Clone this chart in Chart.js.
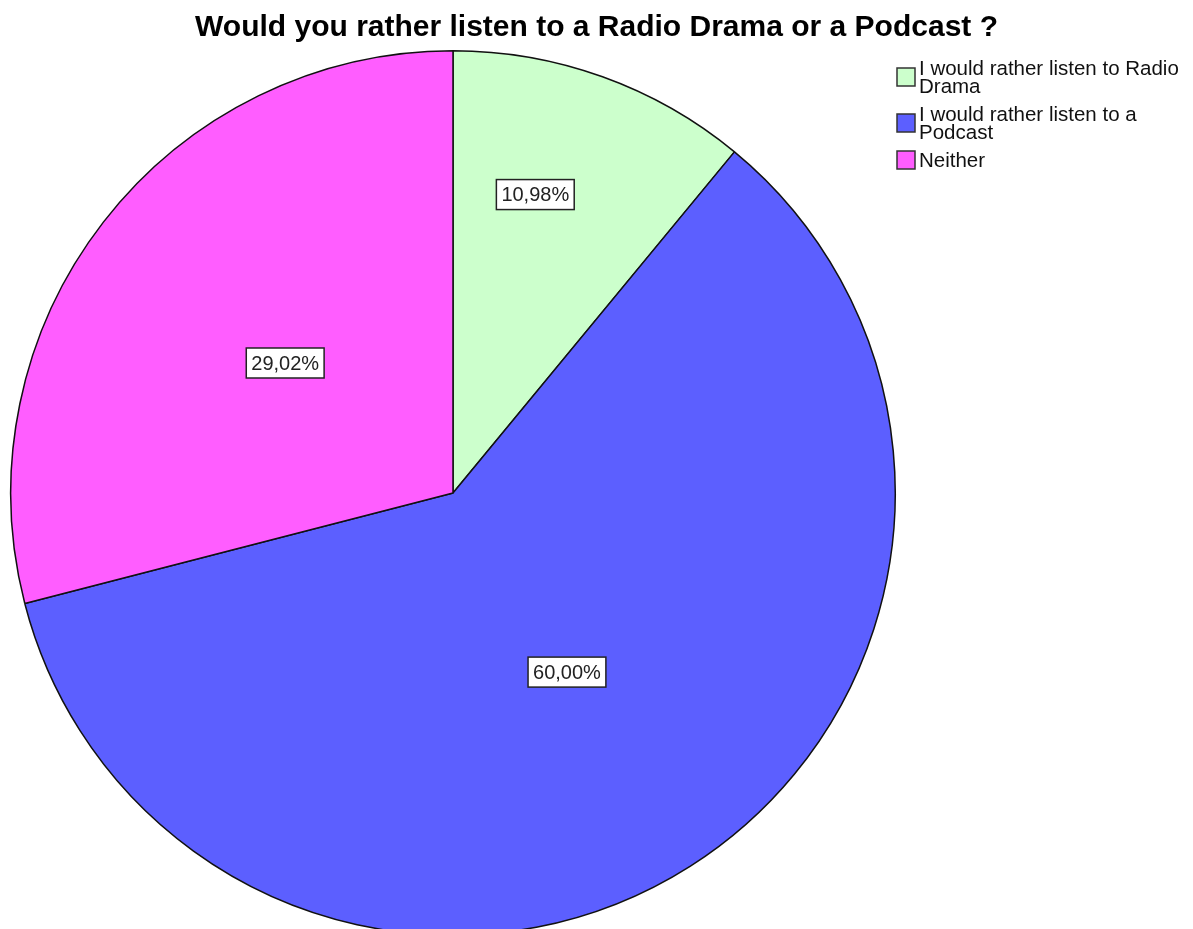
<!DOCTYPE html>
<html>
<head>
<meta charset="utf-8">
<title>Radio Drama or Podcast</title>
<script src="https://cdn.jsdelivr.net/npm/chart.js@4.4.1/dist/chart.umd.min.js"></script>
<style>
  html, body { margin: 0; padding: 0; background: #fff; overflow: hidden; }
  #wrap { width: 1193px; height: 929px; overflow: hidden; position: relative; }
</style>
</head>
<body>
<div id="wrap">
  <canvas id="pieChart" width="1193" height="940"></canvas>
</div>
<script>
// Datos del gráfico
const titleText = 'Would you rather listen to a Radio Drama or a Podcast ?';
const categories = [
  ['I would rather listen to Radio', 'Drama'],
  ['I would rather listen to a', 'Podcast'],
  ['Neither']
];
const percentages = [10.98, 60.00, 29.02];
const sliceColors = ['#ccffcc', '#5c5fff', '#ff5dff'];

const fontFamily = 'Arial, "Liberation Sans", sans-serif';

// formato con coma decimal, como en el original
function formatPct(v) {
  return v.toFixed(2).replace('.', ',') + '%';
}

// Título, etiquetas y leyenda dibujados a mano
const decorPlugin = {
  id: 'decor',
  afterDraw(chart) {
    const ctx = chart.ctx;
    ctx.save();

    // título
    ctx.fillStyle = '#000';
    ctx.font = 'bold 30px ' + fontFamily;
    ctx.textAlign = 'center';
    ctx.textBaseline = 'alphabetic';
    ctx.fillText(titleText, chart.width / 2, 36);

    // etiquetas de porcentaje
    const meta = chart.getDatasetMeta(0);
    ctx.font = '20px ' + fontFamily;
    meta.data.forEach((arc, i) => {
      const p = arc.getProps(['x', 'y', 'startAngle', 'endAngle', 'outerRadius'], true);
      const small = percentages[i] < 15;
      // las porciones pequeñas llevan la etiqueta más afuera y algo hacia el inicio
      const ang = p.startAngle + (p.endAngle - p.startAngle) * (small ? 0.39 : 0.5);
      const frac = small ? 0.7 : 0.48;
      const cx = p.x + Math.cos(ang) * p.outerRadius * frac;
      const cy = p.y + Math.sin(ang) * p.outerRadius * frac;
      const txt = formatPct(percentages[i]);
      const w = ctx.measureText(txt).width + 10;
      const h = 30;
      ctx.fillStyle = '#fff';
      ctx.fillRect(cx - w / 2, cy - h / 2, w, h);
      ctx.strokeStyle = '#222';
      ctx.lineWidth = 1.5;
      ctx.strokeRect(cx - w / 2, cy - h / 2, w, h);
      ctx.fillStyle = '#222';
      ctx.textAlign = 'center';
      ctx.textBaseline = 'middle';
      ctx.fillText(txt, cx, cy + 1);
    });

    // leyenda
    const lx = chart.chartArea.right + 1;
    const lineH = 18;
    let baseline = 75;
    ctx.font = '20.5px ' + fontFamily;
    ctx.textAlign = 'left';
    ctx.textBaseline = 'alphabetic';
    categories.forEach((lines, i) => {
      const top = baseline - 14;
      const bottom = baseline + (lines.length - 1) * lineH;
      const boxC = (top + bottom) / 2;
      ctx.fillStyle = sliceColors[i];
      ctx.fillRect(lx, boxC - 9, 18, 18);
      ctx.strokeStyle = '#333';
      ctx.lineWidth = 1.5;
      ctx.strokeRect(lx, boxC - 9, 18, 18);
      ctx.fillStyle = '#111';
      lines.forEach((ln, j) => {
        ctx.fillText(ln, lx + 22, baseline + j * lineH);
      });
      baseline += (lines.length - 1) * lineH + 28;
    });

    ctx.restore();
  }
};

const ctx = document.getElementById('pieChart').getContext('2d');
const chart = new Chart(ctx, {
  type: 'pie',
  data: {
    labels: categories.map(l => l.join(' ')),
    datasets: [{
      data: percentages,
      backgroundColor: sliceColors,
      borderColor: '#111',
      borderWidth: 1.5,
      hoverOffset: 0,
      offset: 0
    }]
  },
  options: {
    responsive: false,
    animation: false,
    layout: {
      padding: { top: 50, left: 10, right: 297, bottom: 4 }
    },
    plugins: {
      legend: { display: false },
      title: { display: false },
      tooltip: { enabled: false }
    }
  },
  plugins: [decorPlugin]
});
</script>
</body>
</html>
